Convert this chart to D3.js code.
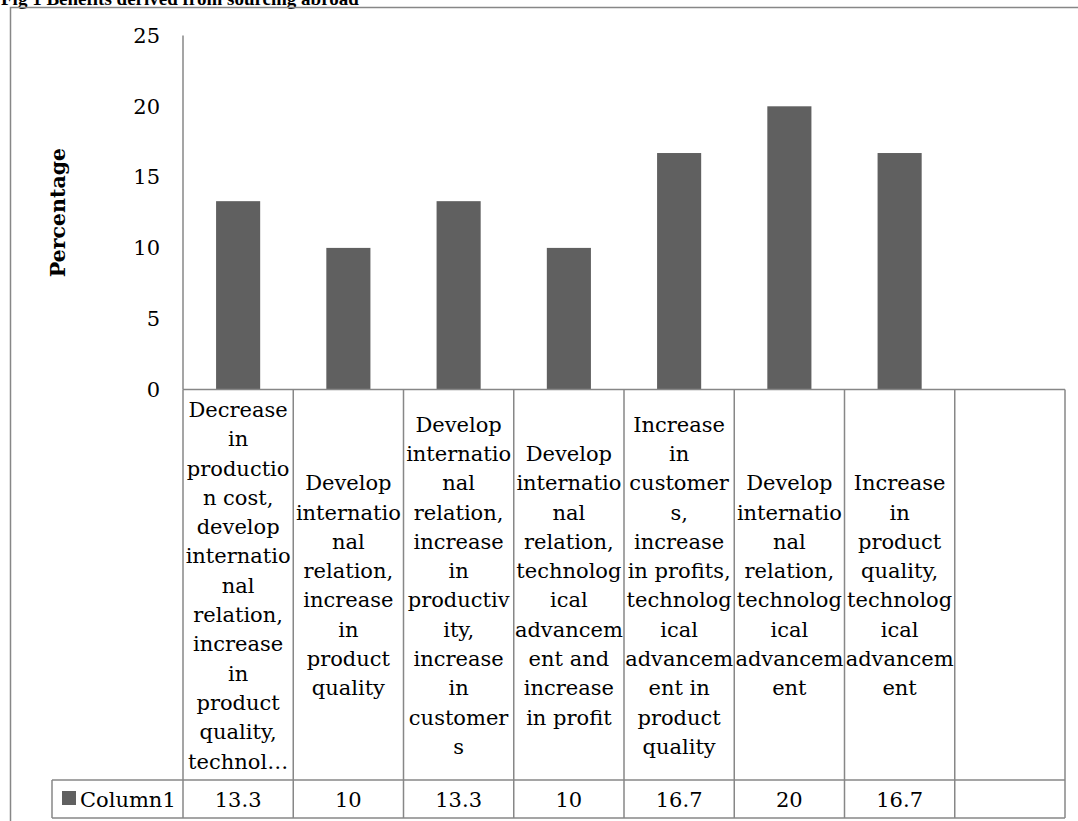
<!DOCTYPE html>
<html lang="en">
    <head>
        <meta charset="utf-8">
        <title>Benefits derived from sourcing abroad</title>
        <script type="text/javascript" src="https://d3js.org/d3.v7.min.js"></script>
        <style type="text/css">
            body { margin: 0; background: #fff; }
        </style>
    </head>
    <body>
        <script type="text/javascript">

        // data (last slot is the empty column of the data table)
        const categories = [
            ["Decrease","in","productio","n cost,","develop","internatio","nal","relation,","increase","in","product","quality,","technol\u2026"],
            ["Develop","internatio","nal","relation,","increase","in","product","quality"],
            ["Develop","internatio","nal","relation,","increase","in","productiv","ity,","increase","in","customer","s"],
            ["Develop","internatio","nal","relation,","technolog","ical","advancem","ent and","increase","in profit"],
            ["Increase","in","customer","s,","increase","in profits,","technolog","ical","advancem","ent in","product","quality"],
            ["Develop","internatio","nal","relation,","technolog","ical","advancem","ent"],
            ["Increase","in","product","quality,","technolog","ical","advancem","ent"],
            []
        ];
        const values = [13.3, 10, 13.3, 10, 16.7, 20, 16.7, null];
        const valueLabels = ["13.3", "10", "13.3", "10", "16.7", "20", "16.7", ""];
        const yTicks = [0, 5, 10, 15, 20, 25];
        const seriesName = "Column1";

        const width = 1078;
        const height = 821;
        const font = "'DejaVu Serif', serif";
        const lineCol = "#878787";
        const barCol = "#606060";

        const plotLeft = 183, plotRight = 1065;
        const plotTop = 35.5, plotBottom = 389.5;
        const headerBottom = 780, tableBottom = 818, legendLeft = 52;
        const lineH = 29.3;

        const svg = d3.select("body")
                    .append("svg")
                    .attr("width", width)
                    .attr("height", height);

        // title (cut at the top like the page it came from)
        svg.append("text")
            .attr("x", 1)
            .attr("y", 5)
            .style("font-family", "'Liberation Serif', serif")
            .style("font-weight", "bold")
            .style("font-size", "19px")
            .text("Fig 1 Benefits derived from sourcing abroad");

        // outer chart border
        svg.append("path")
            .attr("d", `M10.5,${height} V7.5 H${width}`)
            .attr("fill", "none")
            .attr("stroke", lineCol)
            .attr("stroke-width", 1.5);

        const xScale = d3.scaleBand()
                        .domain(d3.range(categories.length))
                        .range([plotLeft, plotRight]);

        const yScale = d3.scaleLinear()
                        .domain([0, 25])
                        .range([plotBottom, plotTop]);

        // bars
        const barW = xScale.bandwidth() * 0.4;
        svg.selectAll("rect.bar")
            .data(values.map((v, i) => ({v, i})).filter(d => d.v != null))
            .enter()
            .append("rect")
            .attr("class", "bar")
            .attr("x", d => xScale(d.i) + (xScale.bandwidth() - barW) / 2)
            .attr("y", d => yScale(d.v))
            .attr("width", barW)
            .attr("height", d => yScale(0) - yScale(d.v))
            .attr("fill", barCol);

        // left axis
        const leftAxis = d3.axisLeft(yScale)
                        .tickValues(yTicks)
                        .tickSize(0)
                        .tickPadding(23);
        const gy = svg.append("g")
            .attr("transform", `translate(${plotLeft},0)`)
            .call(leftAxis);
        gy.select(".domain").remove();
        gy.selectAll("text")
            .style("font-family", font)
            .style("font-size", "21px")
            .attr("fill", "#000");

        svg.append("line")
            .attr("x1", plotLeft).attr("x2", plotLeft)
            .attr("y1", plotTop).attr("y2", plotBottom)
            .attr("stroke", lineCol)
            .attr("stroke-width", 1.5);

        svg.append("text")
            .attr("transform", `translate(65,${(plotTop + plotBottom) / 2}) rotate(-90)`)
            .attr("text-anchor", "middle")
            .style("font-family", font)
            .style("font-weight", "bold")
            .style("font-size", "20.5px")
            .text("Percentage");

        // data table grid
        const grid = svg.append("g")
            .attr("stroke", lineCol)
            .attr("stroke-width", 1.5)
            .attr("fill", "none");
        grid.append("line")
            .attr("x1", plotLeft).attr("x2", plotRight)
            .attr("y1", plotBottom).attr("y2", plotBottom);
        grid.append("line")
            .attr("x1", legendLeft).attr("x2", plotRight)
            .attr("y1", headerBottom).attr("y2", headerBottom);
        grid.append("line")
            .attr("x1", legendLeft).attr("x2", plotRight)
            .attr("y1", tableBottom).attr("y2", tableBottom);
        grid.append("line")
            .attr("x1", legendLeft).attr("x2", legendLeft)
            .attr("y1", headerBottom).attr("y2", tableBottom);
        grid.selectAll("line.col")
            .data(d3.range(categories.length + 1))
            .enter()
            .append("line")
            .attr("class", "col")
            .attr("x1", i => i < categories.length ? xScale(i) : plotRight)
            .attr("x2", i => i < categories.length ? xScale(i) : plotRight)
            .attr("y1", plotBottom)
            .attr("y2", tableBottom);

        // category labels, centred in the header cells
        const midY = (plotBottom + headerBottom) / 2 + 8;
        categories.forEach((lines, i) => {
            const t = svg.append("text")
                .attr("text-anchor", "middle")
                .style("font-family", font)
                .style("font-size", "21px");
            lines.forEach((ln, k) => {
                t.append("tspan")
                    .attr("x", xScale(i) + xScale.bandwidth() / 2)
                    .attr("y", midY + (k - (lines.length - 1) / 2) * lineH)
                    .text(ln);
            });
        });

        // value row
        svg.selectAll("text.val")
            .data(valueLabels)
            .enter()
            .append("text")
            .attr("class", "val")
            .attr("x", (d, i) => xScale(i) + xScale.bandwidth() / 2)
            .attr("y", 807)
            .attr("text-anchor", "middle")
            .style("font-family", font)
            .style("font-size", "21px")
            .text(d => d);

        // legend key
        svg.append("rect")
            .attr("x", 62).attr("y", 791)
            .attr("width", 14).attr("height", 14)
            .attr("fill", barCol);
        svg.append("text")
            .attr("x", 80)
            .attr("y", 807)
            .style("font-family", font)
            .style("font-size", "21px")
            .text(seriesName);

        </script>
    </body>
</html>
